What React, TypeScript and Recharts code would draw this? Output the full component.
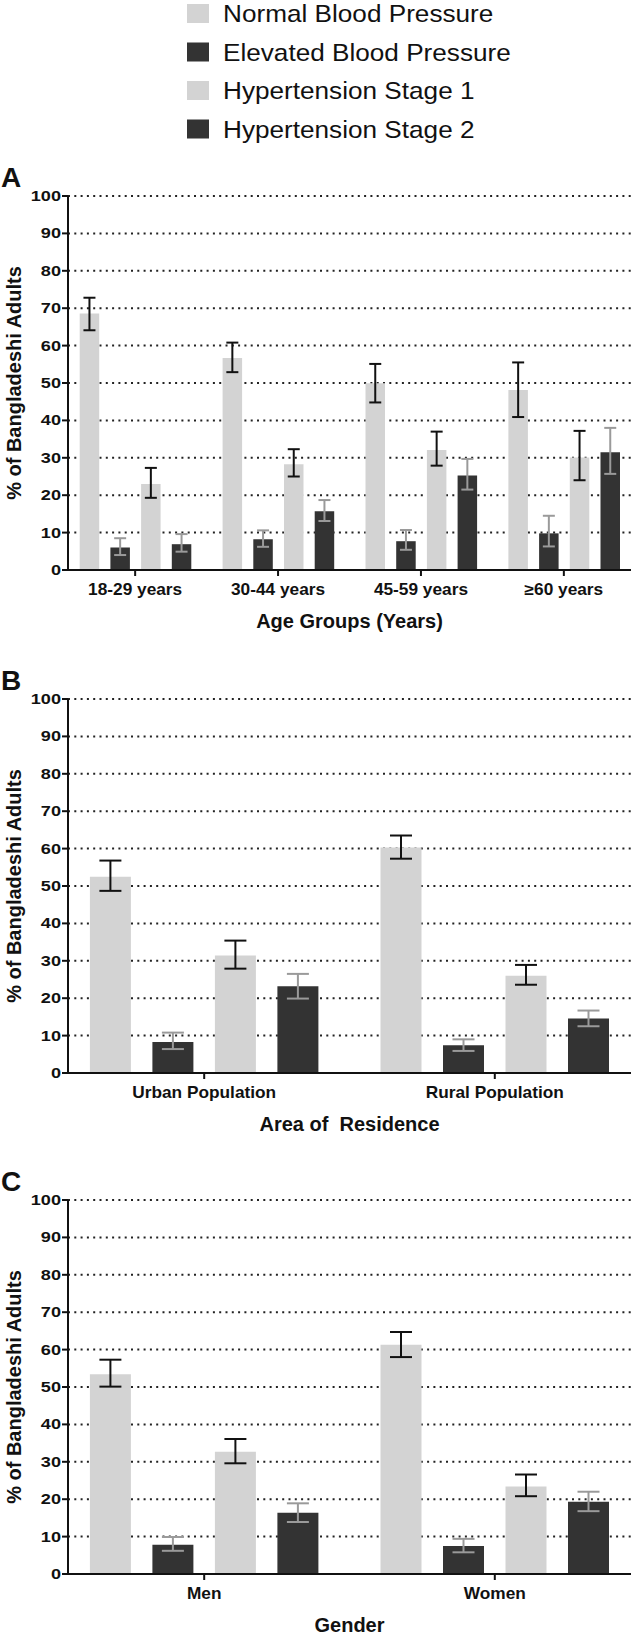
import React from 'react';
import { BarChart, Bar, XAxis, YAxis, CartesianGrid, ErrorBar, Legend } from 'recharts';

const FONT = '"Liberation Sans", Arial, Helvetica, sans-serif';

// ---- shared series definitions ----
const seriesKeys = ['normal', 'elevated', 'stage1', 'stage2'];
const seriesNames = ['Normal Blood Pressure', 'Elevated Blood Pressure', 'Hypertension Stage 1', 'Hypertension Stage 2'];
const barColors = ['#d3d3d3', '#333333', '#d3d3d3', '#333333'];
const errorColors = ['#111111', '#9a9a9a', '#111111', '#9a9a9a'];
const yTicks = [0, 10, 20, 30, 40, 50, 60, 70, 80, 90, 100];

// ---- Panel A : Age groups ----
const ageGroups = ['18-29 years', '30-44 years', '45-59 years', '\u226560 years'];
const ageNormal = [68.6, 56.7, 49.9, 48.1];
const ageNormalLow = [64.1, 52.9, 44.8, 40.9];
const ageNormalHigh = [72.8, 60.8, 55.1, 55.5];
const ageElevated = [6.0, 8.2, 7.7, 9.8];
const ageElevatedLow = [4.0, 6.2, 5.4, 6.3];
const ageElevatedHigh = [8.5, 10.6, 10.7, 14.5];
const ageStage1 = [23.0, 28.3, 32.1, 30.1];
const ageStage1Low = [19.3, 25.0, 27.9, 24.0];
const ageStage1High = [27.3, 32.3, 37.0, 37.2];
const ageStage2 = [6.9, 15.7, 25.3, 31.5];
const ageStage2Low = [4.9, 13.1, 21.5, 25.7];
const ageStage2High = [9.6, 18.7, 29.7, 38.0];

// ---- Panel B : Area of residence ----
const residence = ['Urban Population', 'Rural Population'];
const resNormal = [52.5, 60.3];
const resNormalLow = [48.7, 57.3];
const resNormalHigh = [56.8, 63.5];
const resElevated = [8.3, 7.4];
const resElevatedLow = [6.4, 5.9];
const resElevatedHigh = [10.8, 9.0];
const resStage1 = [31.4, 26.0];
const resStage1Low = [27.9, 23.6];
const resStage1High = [35.4, 28.9];
const resStage2 = [23.2, 14.6];
const resStage2Low = [19.9, 12.5];
const resStage2High = [26.5, 16.7];

// ---- Panel C : Gender ----
const genders = ['Men', 'Women'];
const genNormal = [53.4, 61.3];
const genNormalLow = [50.1, 58.0];
const genNormalHigh = [57.3, 64.7];
const genElevated = [7.8, 7.5];
const genElevatedLow = [6.2, 5.8];
const genElevatedHigh = [9.9, 9.4];
const genStage1 = [32.7, 23.4];
const genStage1Low = [29.6, 20.8];
const genStage1High = [36.1, 26.6];
const genStage2 = [16.4, 19.3];
const genStage2Low = [13.9, 16.8];
const genStage2High = [18.9, 22.0];

function buildRows(categories: string[], values: number[][], lows: number[][], highs: number[][]) {
  return categories.map((c, i) => {
    const row: any = { category: c };
    seriesKeys.forEach((k, s) => {
      row[k] = values[s][i];
      row[k + 'Err'] = [values[s][i] - lows[s][i], highs[s][i] - values[s][i]];
    });
    return row;
  });
}

const rowsA = buildRows(
  ageGroups,
  [ageNormal, ageElevated, ageStage1, ageStage2],
  [ageNormalLow, ageElevatedLow, ageStage1Low, ageStage2Low],
  [ageNormalHigh, ageElevatedHigh, ageStage1High, ageStage2High]
);
const rowsB = buildRows(
  residence,
  [resNormal, resElevated, resStage1, resStage2],
  [resNormalLow, resElevatedLow, resStage1Low, resStage2Low],
  [resNormalHigh, resElevatedHigh, resStage1High, resStage2High]
);
const rowsC = buildRows(
  genders,
  [genNormal, genElevated, genStage1, genStage2],
  [genNormalLow, genElevatedLow, genStage1Low, genStage2Low],
  [genNormalHigh, genElevatedHigh, genStage1High, genStage2High]
);

// ---- custom renderers ----
const XTick = (props: any) => {
  const { x, y, payload } = props;
  return (
    <g transform={`translate(${x},${y})`}>
      <text x={0} y={0} dy={17} textAnchor="middle" transform="scale(1.08,1)"
        fontFamily={FONT} fontWeight="bold" fontSize={16} fill="#111">
        {payload.value}
      </text>
    </g>
  );
};

const YTick = (props: any) => {
  const { x, y, payload } = props;
  return (
    <g transform={`translate(${x},${y})`}>
      <text x={0} y={0} dy={5} textAnchor="end" transform="scale(1.25,1)"
        fontFamily={FONT} fontWeight="bold" fontSize={14.5} fill="#111">
        {payload.value}
      </text>
    </g>
  );
};

const XTitle = (props: any) => {
  const { viewBox, value } = props;
  const vb = viewBox || { x: 0, y: 0, width: 0 };
  return (
    <text x={vb.x + vb.width / 2} y={vb.y + 58} textAnchor="middle" style={{ whiteSpace: 'pre' }}
      fontFamily={FONT} fontWeight="bold" fontSize={20} fill="#111">
      {value}
    </text>
  );
};

const YTitle = (props: any) => {
  const { viewBox, letter } = props;
  const vb = viewBox || { x: 0, y: 0, width: 0, height: 0 };
  return (
    <g>
      <text transform={`translate(14,${vb.y + vb.height / 2}) rotate(-90)`} textAnchor="middle"
        dominantBaseline="central" fontFamily={FONT} fontWeight="bold" fontSize={20} fill="#111">
        % of Bangladeshi Adults
      </text>
      <text x={1} y={vb.y - 9} fontFamily={FONT} fontWeight="bold" fontSize={28} fill="#111">
        {letter}
      </text>
    </g>
  );
};

const legendRowCenters = [13.5, 52, 90.5, 129];

const LegendContent = (props: any) => {
  const payload = [...(props.payload || [])].sort(
    (a: any, b: any) => seriesNames.indexOf(a.value) - seriesNames.indexOf(b.value)
  );
  return (
    <svg width={633} height={145} style={{ display: 'block' }}>
      {payload.map((entry: any, i: number) => {
        const cy = legendRowCenters[i] ?? 0;
        return (
          <g key={`leg-${i}`}>
            <rect x={187} y={cy - 9.5} width={22} height={19} fill={entry.color} />
            <text transform={`translate(223,${cy + 8.5}) scale(1.09,1)`} x={0} y={0}
              fontFamily={FONT} fontSize={24} fill="#111">
              {entry.value}
            </text>
          </g>
        );
      })}
    </svg>
  );
};

type PanelProps = {
  letter: string;
  title: string;
  rows: any[];
  top: number;
  height: number;
  marginTop: number;
  xAxisHeight: number;
  barSize: number;
  barGap: number;
  xPad: number;
  capWidth: number;
  showLegend?: boolean;
};

function Panel(p: PanelProps) {
  const axisStyle = { stroke: '#111', strokeWidth: 2 };
  return (
    <div style={{ position: 'absolute', left: 0, top: p.top, width: 633, height: p.height }}>
      <BarChart width={633} height={p.height} data={p.rows}
        margin={{ top: p.marginTop, right: 2, bottom: 0, left: 0 }}
        barSize={p.barSize} barGap={p.barGap}>
        <CartesianGrid vertical={false} stroke="#222" strokeWidth={2} strokeDasharray="2 4.3" />
        <XAxis dataKey="category" height={p.xAxisHeight} padding={{ left: p.xPad, right: p.xPad }}
          tickSize={6} tickMargin={2} axisLine={axisStyle} tickLine={axisStyle}
          tick={<XTick />} interval={0} label={<XTitle value={p.title} />} />
        <YAxis width={68} domain={[0, 100]} ticks={yTicks} interval={0} tickSize={6} tickMargin={1}
          axisLine={axisStyle} tickLine={axisStyle} tick={<YTick />} allowDataOverflow
          label={<YTitle letter={p.letter} />} />
        {seriesKeys.map((k, s) => (
          <Bar key={k} dataKey={k} name={seriesNames[s]} fill={barColors[s]} isAnimationActive={false}>
            <ErrorBar dataKey={k + 'Err'} width={p.capWidth} stroke={errorColors[s]} strokeWidth={2}
              direction="y" isAnimationActive={false} />
          </Bar>
        ))}
        {p.showLegend && (
          <Legend layout="vertical" verticalAlign="middle" align="center" content={<LegendContent />}
            itemSorter={null as any}
            wrapperStyle={{ position: 'absolute', top: 0, left: 0, width: 633, height: 145 }} />
        )}
      </BarChart>
    </div>
  );
}

export default function App() {
  return (
    <div style={{ position: 'absolute', left: 0, top: 0, width: 633, height: 1637, background: '#fff', overflow: 'hidden' }}>
      <Panel letter="A" title="Age Groups (Years)" rows={rowsA} top={0} height={660} marginTop={196}
        xAxisHeight={90} barSize={19.5} barGap={11.2} xPad={-4.3} capWidth={6} showLegend />
      <Panel letter="B" title="Area of  Residence" rows={rowsB} top={660} height={500} marginTop={39}
        xAxisHeight={87} barSize={41} barGap={21.5} xPad={-9.1} capWidth={11} />
      <Panel letter="C" title="Gender" rows={rowsC} top={1160} height={477} marginTop={40}
        xAxisHeight={63} barSize={41} barGap={21.5} xPad={-9.1} capWidth={11} />
    </div>
  );
}
